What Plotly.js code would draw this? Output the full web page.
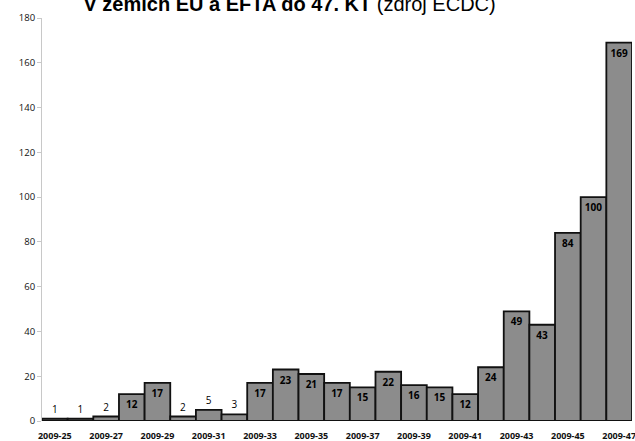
<!DOCTYPE html>
<html><head><meta charset="utf-8">
<script src="https://cdn.plot.ly/plotly-3.0.1.min.js"></script>
<style>html,body{margin:0;padding:0;background:#fff}</style>
</head><body>
<div id="chart" style="width:635px;height:441px"></div>
<script>
const weeks = ["2009-25","2009-26","2009-27","2009-28","2009-29","2009-30","2009-31","2009-32","2009-33","2009-34","2009-35","2009-36","2009-37","2009-38","2009-39","2009-40","2009-41","2009-42","2009-43","2009-44","2009-45","2009-46","2009-47"];
const cases = [1,1,2,12,17,2,5,3,17,23,21,17,15,22,16,15,12,24,49,43,84,100,169];
const tickLabels = ["2009-25","2009-27","2009-29","2009-31","2009-33","2009-35","2009-37","2009-39","2009-41","2009-43","2009-45","2009-47"];
const titleBold = "V zemích EU a EFTA do 47. KT";
const titleRest = " (zdroj ECDC)";

const texts = cases.map(v => v >= 10 ? "<b>" + v + "</b>" : String(v));
const positions = cases.map(v => v >= 10 ? "inside" : "outside");

Plotly.newPlot("chart", [{
  type: "bar",
  x: weeks,
  y: cases,
  text: texts,
  textposition: positions,
  insidetextanchor: "end",
  constraintext: "none",
  cliponaxis: false,
  textangle: 0,
  textfont: {family: "Open Sans, sans-serif", size: 10, color: "#000"},
  marker: {color: "#8c8c8c", line: {color: "#111", width: 1.8}},
  hoverinfo: "skip"
}], {
  width: 635, height: 441,
  margin: {l: 42, r: 3, t: 18, b: 20, pad: 0},
  bargap: 0,
  showlegend: false,
  paper_bgcolor: "#fff",
  plot_bgcolor: "#fff",
  title: {
    text: "<b>" + titleBold + "</b>" + titleRest,
    font: {family: "Liberation Sans Narrow, Liberation Sans, sans-serif", size: 20, color: "#000"},
    x: 0.456, xanchor: "center",
    y: 0.99, yanchor: "middle", yref: "container"
  },
  xaxis: {
    type: "category",
    range: [-0.5, 22.5],
    tickmode: "array",
    tickvals: tickLabels,
    ticktext: tickLabels.map(t => "<b>" + t + "</b>"),
    tickfont: {family: "Open Sans, sans-serif", size: 9, color: "#111"},
    ticklabelstandoff: 8,
    showgrid: false,
    zeroline: false,
    showline: false,
    ticks: "",
    fixedrange: true
  },
  yaxis: {
    range: [0, 180],
    dtick: 20,
    tick0: 0,
    tickfont: {family: "Open Sans, sans-serif", size: 9.5, color: "#111"},
    showgrid: false,
    zeroline: false,
    showline: true,
    linecolor: "#c8c8c8",
    linewidth: 1,
    ticks: "outside",
    ticklen: 4,
    tickcolor: "#c8c8c8",
    fixedrange: true
  }
}, {displayModeBar: false, staticPlot: true});
</script>
</body></html>
